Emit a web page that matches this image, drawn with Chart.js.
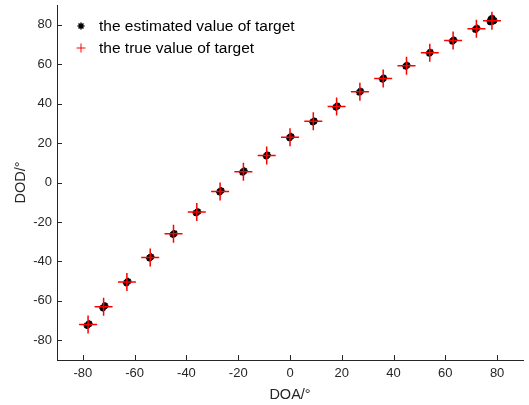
<!DOCTYPE html>
<html>
<head>
<meta charset="utf-8">
<script src="https://cdn.jsdelivr.net/npm/chart.js@4"></script>
<style>
  html, body { margin: 0; padding: 0; background: #fff; }
  #wrap { position: relative; width: 529px; height: 405px; }
</style>
</head>
<body>
<div id="wrap"><canvas id="chart"></canvas></div>
<script>
// true target positions (DOA, DOD) in degrees
const targetDOA = [-78, -72, -63, -54, -45, -36, -27, -18, -9, 0, 9, 18, 27, 36, 45, 54, 63, 72, 78];
const targetDOD = [-72, -63, -50.5, -38, -26, -15, -4.5, 5.5, 13.7, 23, 31, 38.5, 46, 52.7, 59.2, 65.8, 72, 78, 82];

// estimated positions (several estimates per target)
const estDOA = [-78.4, -77.6, -72.3, -71.5, -63.2, -62.6, -54.3, -53.7, -45.2, -44.7, -36.3, -35.6,
  -27.2, -26.6, -18.3, -17.7, -9.2, -8.7, -0.2, 0.4, 8.8, 9.4, 17.7, 18.3, 26.8, 27.3, 35.7, 36.2,
  44.7, 45.2, 53.8, 54.2, 62.7, 63.3, 71.6, 72.2, 77.3, 78.1, 78.8, 77.6, 78.5];
const estDOD = [-72.5, -71.6, -63.6, -62.5, -50.9, -50.1, -38.3, -37.7, -26.4, -25.8, -15.4, -14.8,
  -4.8, -4.1, 5.2, 5.9, 13.4, 14.0, 22.7, 23.4, 30.7, 31.2, 38.2, 38.8, 45.7, 46.3, 52.4, 53.0,
  58.9, 59.5, 65.5, 66.1, 71.6, 72.3, 77.6, 78.3, 81.5, 83.3, 82.2, 82.8, 81.8];

const xTicks = [-80, -60, -40, -20, 0, 20, 40, 60, 80];
const yTicks = [-80, -60, -40, -20, 0, 20, 40, 60, 80];

const legendLabels = ["the estimated value of target", "the true value of target"];

const axisColor = "#262626";
const fontFamily = '"Liberation Sans", Arial, sans-serif';

const estPoints = estDOA.map((x, i) => ({ x: x, y: estDOD[i] }));
const truePoints = targetDOA.map((x, i) => ({ x: x, y: targetDOD[i] }));

// inward tick marks + legend box inside the axes
const extras = {
  id: "extras",
  afterDatasetsDraw(chart) {
    const ctx = chart.ctx;
    const { left, bottom } = chart.chartArea;
    const xs = chart.scales.x, ys = chart.scales.y;
    ctx.save();
    ctx.strokeStyle = axisColor;
    ctx.lineWidth = 1;
    ctx.beginPath();
    xTicks.forEach(v => {
      const px = Math.round(xs.getPixelForValue(v)) + 0.5;
      ctx.moveTo(px, bottom);
      ctx.lineTo(px, bottom - 5);
    });
    yTicks.forEach(v => {
      const py = Math.round(ys.getPixelForValue(v)) + 0.5;
      ctx.moveTo(left, py);
      ctx.lineTo(left + 5, py);
    });
    ctx.stroke();

    // legend
    const h = Chart.helpers;
    ctx.lineWidth = 1.5;
    ctx.strokeStyle = "#000";
    h.drawPoint(ctx, { pointStyle: "star", radius: 3.5, borderWidth: 1.5, rotation: 0 }, 81, 26);
    ctx.strokeStyle = "#ff0000";
    ctx.lineWidth = 1;
    h.drawPoint(ctx, { pointStyle: "cross", radius: 4.5, borderWidth: 1, rotation: 0 }, 81, 48);
    ctx.fillStyle = "#000";
    ctx.font = "15.5px " + fontFamily;
    ctx.textBaseline = "middle";
    ctx.textAlign = "left";
    ctx.fillText(legendLabels[0], 99, 27);
    ctx.fillText(legendLabels[1], 99, 49);
    ctx.restore();
  }
};

new Chart(document.getElementById("chart"), {
  type: "scatter",
  data: {
    datasets: [
      {
        label: legendLabels[0],
        data: estPoints,
        pointStyle: "star",
        pointRadius: 3.5,
        pointBorderWidth: 2,
        borderColor: "#000",
        backgroundColor: "#000",
        order: 2
      },
      {
        label: legendLabels[1],
        data: truePoints,
        pointStyle: "cross",
        pointRadius: 9,
        pointBorderWidth: 1.5,
        borderColor: "#ff0000",
        backgroundColor: "#ff0000",
        order: 1
      }
    ]
  },
  options: {
    responsive: true,
    maintainAspectRatio: false,
    animation: false,
    layout: { autoPadding: false, padding: { top: 5, right: 6, left: 0, bottom: 0 } },
    plugins: {
      legend: { display: false },
      tooltip: { enabled: false }
    },
    scales: {
      x: {
        type: "linear",
        min: -90,
        max: 90,
        afterBuildTicks: (s) => { s.ticks = xTicks.map(v => ({ value: v })); },
        afterFit: (s) => { s.height = 45; s.paddingLeft = 0; s.paddingRight = 0; },
        grid: { display: false, drawTicks: false },
        border: { display: true, color: axisColor, width: 1 },
        ticks: {
          padding: 6,
          color: axisColor,
          font: { family: fontFamily, size: 13 },
          maxRotation: 0
        },
        title: {
          display: true,
          text: "DOA/°",
          color: axisColor,
          font: { family: fontFamily, size: 14.5 },
          padding: { top: 0, bottom: 1 }
        }
      },
      y: {
        type: "linear",
        min: -90,
        max: 90,
        afterBuildTicks: (s) => { s.ticks = yTicks.map(v => ({ value: v })); },
        afterFit: (s) => { s.width = 57; s.paddingTop = 0; s.paddingBottom = 0; },
        grid: { display: false, drawTicks: false },
        border: { display: true, color: axisColor, width: 1 },
        ticks: {
          padding: 5,
          color: axisColor,
          font: { family: fontFamily, size: 13 }
        },
        title: {
          display: true,
          text: "DOD/°",
          color: axisColor,
          font: { family: fontFamily, size: 14.5 },
          padding: { top: 12, bottom: 0 }
        }
      }
    }
  },
  plugins: [extras]
});
</script>
</body>
</html>
